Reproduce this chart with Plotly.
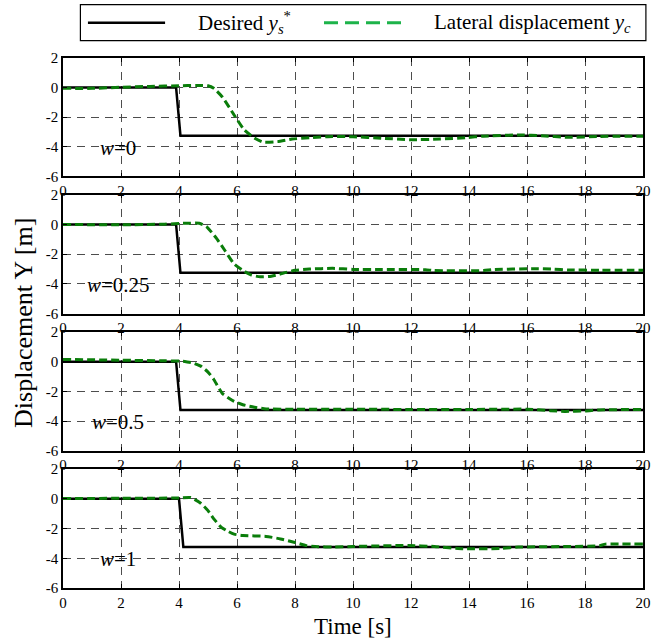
import plotly.graph_objects as go

# Time samples and reference path (desired lateral position)
desired_t = [[0, 3.9, 4.05, 20], [0, 3.9, 4.05, 20], [0, 3.9, 4.05, 20], [0, 4.0, 4.15, 20]]
desired_y = [[0, 0, -3.25, -3.25]] * 4

# Lateral displacement responses for each weight w
w_labels = ["0", "0.25", "0.5", "1"]

lat_t_w0 = [0, 1, 2, 3, 4, 4.6, 5.0, 5.2, 5.5, 5.9, 6.25, 6.6, 6.9, 7.4, 7.9, 8.5, 9.3, 10,
            11, 12, 13, 13.9, 14.5, 15.8, 16.5, 17.4, 18.5, 20]
lat_y_w0 = [-0.05, -0.05, 0.02, 0.08, 0.12, 0.15, 0.12, -0.05, -0.65, -1.85, -2.85, -3.4, -3.68,
            -3.65, -3.48, -3.38, -3.3, -3.32, -3.42, -3.52, -3.48, -3.38, -3.28, -3.2, -3.25,
            -3.36, -3.3, -3.28]

lat_t_w025 = [0, 2, 3.5, 4.2, 4.7, 4.95, 5.3, 5.6, 5.9, 6.25, 6.5, 6.8, 7.1, 7.4, 7.7, 8.0, 8.5,
              9.3, 10, 11, 12.5, 12.8, 14.5, 14.8, 16.2, 16.9, 17.4, 18.5, 20]
lat_y_w025 = [0, -0.02, 0.02, 0.08, 0.08, -0.15, -0.95, -1.8, -2.65, -3.15, -3.4, -3.52, -3.5,
              -3.38, -3.22, -3.08, -3.0, -2.95, -3.02, -3.03, -3.04, -3.1, -3.1, -3.04, -2.97,
              -3.0, -3.06, -3.07, -3.08]

lat_t_w05 = [0, 2, 3.5, 4.2, 4.5, 4.75, 5.0, 5.2, 5.5, 5.9, 6.2, 6.6, 7.0, 8, 10, 12, 14, 16,
             16.8, 17.3, 18, 18.5, 20]
lat_y_w05 = [0.15, 0.1, 0.06, 0.02, -0.1, -0.3, -0.7, -1.2, -2.15, -2.67, -2.9, -3.07, -3.18,
             -3.2, -3.2, -3.22, -3.22, -3.2, -3.3, -3.35, -3.32, -3.25, -3.22]

lat_t_w1 = [0, 2, 4, 4.4, 4.75, 5.0, 5.2, 5.45, 5.7, 5.9, 6.2, 7.0, 7.5, 8.0, 8.4, 8.8, 9.3, 10,
            11.9, 12.8, 13.8, 15.1, 15.7, 17.4, 18.5, 18.7, 20]
lat_y_w1 = [0.02, 0.03, 0.05, 0.08, -0.3, -0.8, -1.35, -1.9, -2.2, -2.38, -2.47, -2.53, -2.7,
            -2.94, -3.15, -3.22, -3.25, -3.21, -3.14, -3.21, -3.36, -3.34, -3.25, -3.21, -3.16,
            -3.05, -3.05]

lat_t = [lat_t_w0, lat_t_w025, lat_t_w05, lat_t_w1]
lat_y = [lat_y_w0, lat_y_w025, lat_y_w05, lat_y_w1]

x_ticks = list(range(0, 21, 2))
y_ticks = [-6, -4, -2, 0, 2]
y_tick_text = ["-6", "-4", "-2", "0", "2"]

FONT = "Liberation Serif"
GREEN = "#0a7d0a"
LEGEND_GREEN = "#1db34a"

# Vertical placement of the four stacked panels (paper coordinates)
domains = [[0.7766, 1.0], [0.5175, 0.742], [0.259, 0.483], [0.0, 0.2245]]

fig = go.Figure()
layout = {}
for i in range(4):
    n = "" if i == 0 else str(i + 1)
    xa, ya = "x" + n, "y" + n
    fig.add_trace(go.Scatter(x=desired_t[i], y=desired_y[i], xaxis=xa, yaxis=ya, mode="lines",
                             line=dict(color="black", width=2.5), showlegend=False))
    fig.add_trace(go.Scatter(x=lat_t[i], y=lat_y[i], xaxis=xa, yaxis=ya, mode="lines",
                             line=dict(color=GREEN, width=3, dash="8px,4px", shape="spline",
                                       smoothing=0.5),
                             showlegend=False))
    common = dict(showline=True, linecolor="black", linewidth=1.5, mirror="ticks",
                  ticks="inside", ticklen=4, tickcolor="black",
                  showgrid=True, gridcolor="#4d4d4d", gridwidth=1, griddash="8px,6px",
                  zeroline=False, tickfont=dict(family=FONT, size=15, color="black"))
    layout["xaxis" + n] = dict(common, domain=[0, 1], range=[0, 20], tickvals=x_ticks,
                               anchor=ya)
    layout["yaxis" + n] = dict(common, domain=domains[i], range=[-6, 2], tickvals=y_ticks,
                               ticktext=y_tick_text, anchor=xa)
    fig.add_annotation(x=1.9, y=-4.05, xref=xa, yref=ya, showarrow=False,
                       xanchor="center", yanchor="middle",
                       text="<i>w</i>=" + w_labels[i],
                       font=dict(family=FONT, size=21, color="black"))

fig.update_layout(**layout)

# Legend box drawn across the top
box_x0, box_x1 = 0.03, 1.005
box_y0, box_y1 = 1.0326, 1.1006
fig.add_shape(type="rect", xref="paper", yref="paper", x0=box_x0, x1=box_x1, y0=box_y0,
              y1=box_y1, line=dict(color="black", width=1.2), fillcolor="white")
ly = (box_y0 + box_y1) / 2
fig.add_shape(type="line", xref="paper", yref="paper", x0=0.043, x1=0.176, y0=ly, y1=ly,
              line=dict(color="black", width=2.5))
fig.add_shape(type="line", xref="paper", yref="paper", x0=0.45, x1=0.583, y0=ly, y1=ly,
              line=dict(color=LEGEND_GREEN, width=3, dash="14px,7px"))
fig.add_annotation(xref="paper", yref="paper", x=0.229, y=ly, xanchor="left",
                   yanchor="middle", showarrow=False,
                   text="Desired <i>y</i><sub><i>s</i></sub><sup>*</sup>",
                   font=dict(family=FONT, size=21, color="black"))
fig.add_annotation(xref="paper", yref="paper", x=0.636, y=ly, xanchor="left",
                   yanchor="middle", showarrow=False,
                   text="Lateral displacement <i>y</i><sub><i>c</i></sub>",
                   font=dict(family=FONT, size=21, color="black"))

fig.add_annotation(xref="paper", yref="paper", x=0.5, y=-0.073, xanchor="center",
                   yanchor="middle", showarrow=False,
                   text="Time [s]", font=dict(family=FONT, size=23, color="black"))
fig.add_annotation(xref="paper", yref="paper", x=-0.069, y=0.5, xanchor="center",
                   yanchor="middle", showarrow=False,
                   textangle=-90, text="Displacement Y [m]",
                   font=dict(family=FONT, size=26, color="black"))

fig.update_layout(width=662, height=644, margin=dict(l=63, r=19, t=58, b=56),
                  font=dict(family=FONT, color="black"),
                  plot_bgcolor="white", paper_bgcolor="white")

fig.write_html("out.html")
